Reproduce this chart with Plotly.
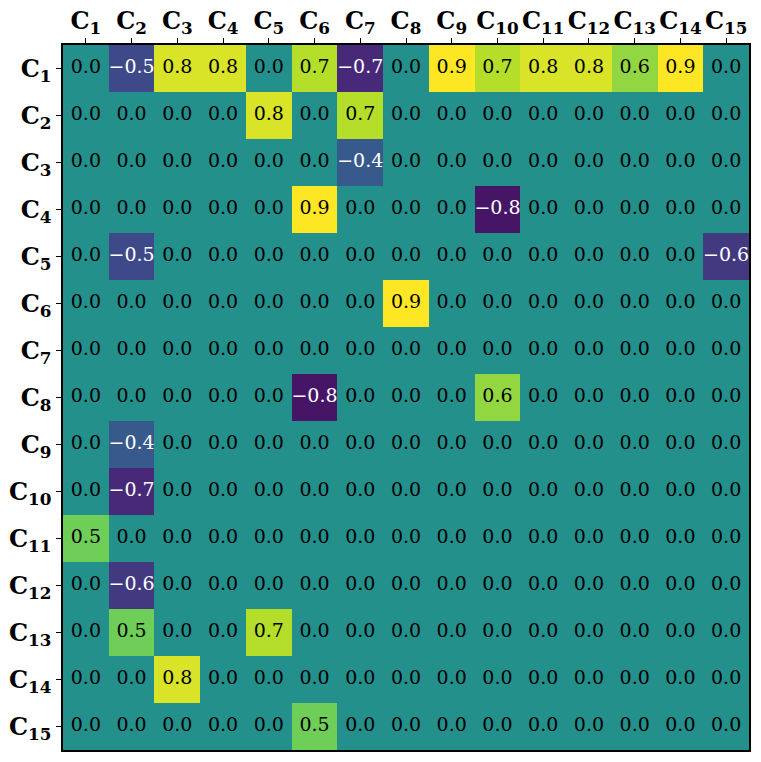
import plotly.graph_objects as go

labels = [f"C{i}" for i in range(1, 16)]
tick_text = [f"<b>C<sub>{i}</sub></b>" for i in range(1, 16)]

# non-zero cells as (row, col, value), 1-based
nonzero = [
    (1, 2, -0.5), (1, 3, 0.8), (1, 4, 0.8), (1, 6, 0.7), (1, 7, -0.7),
    (1, 9, 0.9), (1, 10, 0.7), (1, 11, 0.8), (1, 12, 0.8), (1, 13, 0.6), (1, 14, 0.9),
    (2, 5, 0.8), (2, 7, 0.7),
    (3, 7, -0.4),
    (4, 6, 0.9), (4, 10, -0.8),
    (5, 2, -0.5), (5, 15, -0.6),
    (6, 8, 0.9),
    (8, 6, -0.8), (8, 10, 0.6),
    (9, 2, -0.4),
    (10, 2, -0.7),
    (11, 1, 0.5),
    (12, 2, -0.6),
    (13, 2, 0.5), (13, 5, 0.7),
    (14, 3, 0.8),
    (15, 6, 0.5),
]

z = [[0.0] * 15 for _ in range(15)]
for r, c, v in nonzero:
    z[r - 1][c - 1] = v

xs, ys, txt, cols = [], [], [], []
for i in range(15):
    for j in range(15):
        v = z[i][j]
        xs.append(j)
        ys.append(i)
        txt.append(f"{v:.1f}".replace("-", "\u2212"))
        cols.append("white" if v < 0 else "black")

fig = go.Figure()
fig.add_trace(go.Heatmap(
    z=z, x=list(range(15)), y=list(range(15)),
    colorscale="Viridis", zmin=-0.9, zmax=0.9, showscale=False,
))
fig.add_trace(go.Scatter(
    x=xs, y=ys, mode="text", text=txt,
    textfont=dict(family="DejaVu Serif", size=19, color=cols),
    hoverinfo="skip", showlegend=False,
))

axis_common = dict(
    tickmode="array", tickvals=list(range(15)), ticktext=tick_text,
    ticks="outside", ticklen=5, tickwidth=1.2, tickcolor="black",
    showline=True, linewidth=1.5, linecolor="black", mirror=True,
    showgrid=False, zeroline=False, automargin=False,
    tickfont=dict(family="DejaVu Serif", size=24, color="black"),
)
fig.update_xaxes(side="top", range=[-0.5, 14.5], **axis_common)
fig.update_yaxes(autorange=False, range=[14.5, -0.5], **axis_common)

fig.update_layout(
    width=761, height=762,
    margin=dict(l=63, r=12, t=45, b=12),
    plot_bgcolor="white", paper_bgcolor="white",
)

fig.write_html("out.html", config={"displayModeBar": False},
               post_script="document.body.style.margin='0';")
